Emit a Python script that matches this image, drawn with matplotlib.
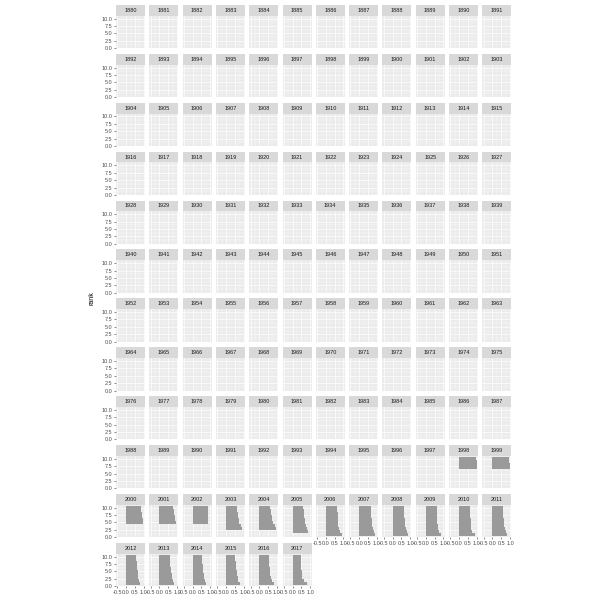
import matplotlib
matplotlib.use("Agg")
import matplotlib.pyplot as plt

years = list(range(1880, 2018))

# years that have bars: lowest rank drawn, then bar lengths from that rank up to rank 10
bar_years = [1998, 1999, 2000, 2001, 2002, 2003, 2004, 2005, 2006, 2007,
             2008, 2009, 2010, 2011, 2012, 2013, 2014, 2015, 2016, 2017]
low_rank = [7, 7, 5, 5, 5, 3, 3, 2, 1, 1, 1, 1, 1, 1, 1, 1, 1, 1, 1, 1]
bar_values = [
    [1.00, 0.99, 0.99, 0.98],
    [0.99, 0.98, 0.97, 0.96],
    [0.98, 0.95, 0.92, 0.89, 0.86, 0.83],
    [0.93, 0.90, 0.87, 0.84, 0.82, 0.80],
    [0.89, 0.88, 0.88, 0.87, 0.87, 0.86],
    [0.92, 0.85, 0.76, 0.72, 0.69, 0.66, 0.64, 0.62],
    [0.94, 0.88, 0.80, 0.74, 0.70, 0.67, 0.64, 0.62],
    [0.88, 0.82, 0.76, 0.72, 0.69, 0.66, 0.64, 0.62, 0.60],
    [0.92, 0.82, 0.74, 0.70, 0.69, 0.68, 0.67, 0.66, 0.65, 0.64],
    [0.92, 0.84, 0.77, 0.73, 0.71, 0.70, 0.69, 0.68, 0.67, 0.66],
    [0.89, 0.80, 0.74, 0.71, 0.70, 0.69, 0.68, 0.67, 0.66, 0.65],
    [0.89, 0.76, 0.70, 0.67, 0.66, 0.65, 0.64, 0.63, 0.62, 0.61],
    [0.91, 0.74, 0.70, 0.67, 0.66, 0.65, 0.64, 0.63, 0.62, 0.61],
    [0.85, 0.75, 0.70, 0.67, 0.65, 0.64, 0.63, 0.62, 0.61, 0.60],
    [0.81, 0.76, 0.70, 0.67, 0.66, 0.63, 0.61, 0.60, 0.59, 0.59],
    [0.85, 0.78, 0.72, 0.69, 0.67, 0.65, 0.63, 0.61, 0.60, 0.59],
    [0.78, 0.72, 0.66, 0.62, 0.60, 0.58, 0.56, 0.55, 0.54, 0.53],
    [0.78, 0.70, 0.66, 0.63, 0.61, 0.59, 0.57, 0.55, 0.54, 0.53],
    [0.85, 0.72, 0.64, 0.62, 0.60, 0.58, 0.56, 0.55, 0.54, 0.53],
    [0.81, 0.62, 0.54, 0.52, 0.51, 0.50, 0.50, 0.49, 0.49, 0.49],
]

x_ticks = [-0.5, 0.0, 0.5, 1.0]
x_minor = [-0.25, 0.25, 0.75]
y_ticks = [0.0, 2.5, 5.0, 7.5, 10.0]
y_minor = [1.25, 3.75, 6.25, 8.75]

plt.rcParams["font.family"] = ["Liberation Sans", "DejaVu Sans"]

W = H = 600.0
ncol = 12
nrow = 12
left0, col_step, pan_w = 116.0, 33.3, 29.0
top0, row_step, strip_h, pan_h = 5.0, 48.9, 10.7, 32.6

fig = plt.figure(figsize=(6, 6), dpi=100)
fig.patch.set_facecolor("white")

lookup = {y: i for i, y in enumerate(bar_years)}
n = len(years)

for i, year in enumerate(years):
    r, c = divmod(i, ncol)
    x0 = left0 + c * col_step
    st = top0 + r * row_step
    pt = st + strip_h

    # strip
    sax = fig.add_axes([x0 / W, 1 - st / H - strip_h / H, pan_w / W, strip_h / H])
    sax.set_facecolor("#D9D9D9")
    sax.set_xticks([])
    sax.set_yticks([])
    for s in sax.spines.values():
        s.set_visible(False)
    sax.text(0.5, 0.5, str(year), ha="center", va="center", fontsize=4.0,
             color="#1A1A1A", transform=sax.transAxes)

    # panel
    ax = fig.add_axes([x0 / W, 1 - pt / H - pan_h / H, pan_w / W, pan_h / H])
    ax.set_facecolor("#EBEBEB")
    ax.set_xlim(-0.575, 1.075)
    ax.set_ylim(0, 11)
    ax.set_xticks(x_ticks)
    ax.set_xticks(x_minor, minor=True)
    ax.set_yticks(y_ticks)
    ax.set_yticks(y_minor, minor=True)
    ax.grid(True, which="major", color="white", linewidth=0.5)
    ax.grid(True, which="minor", color="white", linewidth=0.25)
    ax.set_axisbelow(True)
    for s in ax.spines.values():
        s.set_visible(False)

    if year in lookup:
        k = lookup[year]
        ranks = list(range(low_rank[k], 11))
        ax.barh(ranks, bar_values[k], height=1.0, left=0, color="#9A9A9A",
                linewidth=0)

    show_x = (i + ncol >= n)
    show_y = (c == 0)
    ax.tick_params(which="minor", length=0)
    ax.tick_params(axis="x", which="major", length=1.5, width=0.4,
                   color="#333333", labelsize=4.0, labelcolor="#4D4D4D",
                   pad=1.0, bottom=show_x, labelbottom=show_x)
    ax.tick_params(axis="y", which="major", length=1.5, width=0.4,
                   color="#333333", labelsize=4.0, labelcolor="#4D4D4D",
                   pad=1.0, left=show_y, labelleft=show_y)
    if show_y:
        ax.set_yticklabels(["0.0", "2.5", "5.0", "7.5", "10.0"])
    if show_x:
        ax.set_xticklabels(["-0.5", "0.0", "0.5", "1.0"])

fig.text(92 / W, 1 - 298 / H, "rank", rotation=90, ha="center", va="center",
         fontsize=5.0, color="black")

fig.savefig("out.png", dpi=100, facecolor="white")
